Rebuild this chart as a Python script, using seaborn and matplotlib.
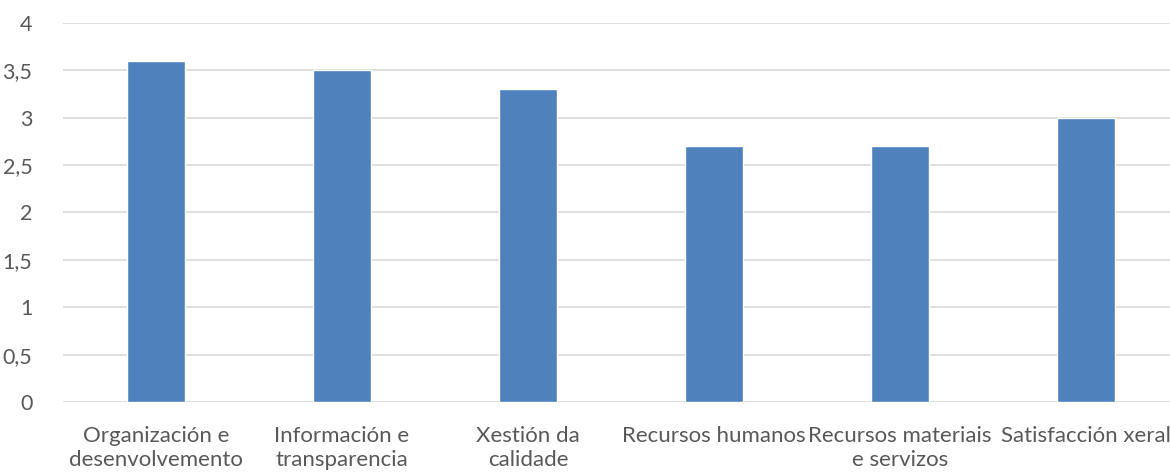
import matplotlib
matplotlib.use("Agg")
from matplotlib import pyplot as plt
from matplotlib.ticker import FuncFormatter
import pandas as pd
import seaborn as sns

categories = [
    "Organización e\ndesenvolvemento",
    "Información e\ntransparencia",
    "Xestión da\ncalidade",
    "Recursos humanos",
    "Recursos materiais\ne servizos",
    "Satisfacción xeral",
]
values = [3.6, 3.5, 3.3, 2.7, 2.7, 3.0]
yticks = [0, 0.5, 1, 1.5, 2, 2.5, 3, 3.5, 4]

df = pd.DataFrame({"Categoría": categories, "Valor": values})

sns.set_theme(style="white")
plt.rcParams["font.family"] = ["Lato", "DejaVu Sans"]

fig = plt.figure(figsize=(11.7, 4.73), dpi=100)
ax = fig.add_axes([63 / 1170, 71 / 473, 1116 / 1170, 379 / 473])

sns.barplot(data=df, x="Categoría", y="Valor", color="#4F81BD", width=0.31,
            saturation=1, ax=ax, zorder=3)

ax.set_ylim(0, 4)
ax.set_xlim(-0.5, 5.5)
ax.set_yticks(yticks)
ax.yaxis.set_major_formatter(FuncFormatter(lambda v, p: f"{v:g}".replace(".", ",")))
ax.grid(axis="y", color="#D9D9D9", linewidth=1.2, zorder=0)
ax.set_axisbelow(True)
for s in ax.spines.values():
    s.set_visible(False)
ax.set_xlabel("")
ax.set_ylabel("")
ax.tick_params(axis="x", length=0, labelsize=16, colors="#595959", pad=17)
ax.tick_params(axis="y", length=0, labelsize=15.5, colors="#595959", pad=22)
for lbl in ax.get_xticklabels():
    lbl.set_linespacing(1.25)
for lbl in ax.get_yticklabels():
    lbl.set_horizontalalignment("right")

fig.savefig("out.png", dpi=100)
